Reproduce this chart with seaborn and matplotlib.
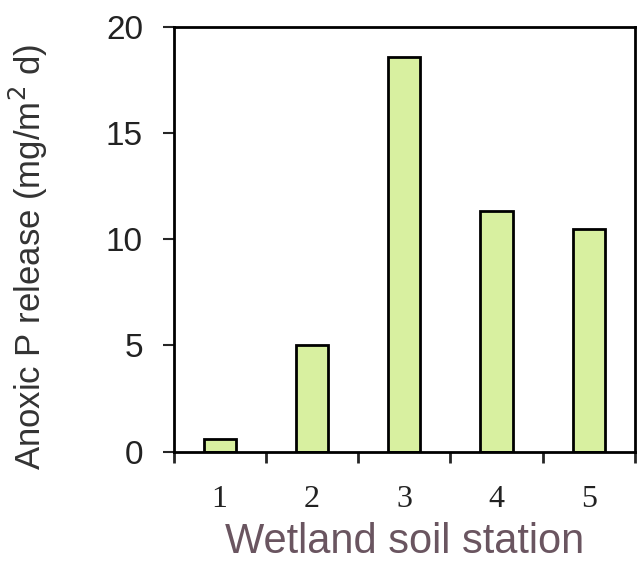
import matplotlib
matplotlib.use("Agg")
import matplotlib.pyplot as plt
import seaborn as sns
import pandas as pd
import numpy as np
from matplotlib.ticker import FixedLocator

stations = ["1", "2", "3", "4", "5"]
release = [0.6, 5.0, 18.6, 11.35, 10.5]
y_ticks = [0, 5, 10, 15, 20]

df = pd.DataFrame({"station": stations, "release": release})

sns.set_style("white")
plt.rcParams["font.family"] = ["Liberation Sans", "DejaVu Sans"]

fig = plt.figure(figsize=(6.38, 5.63), dpi=100)
ax = fig.add_axes([0.272, 0.198, 0.723, 0.754])

sns.barplot(data=df, x="station", y="release", color="#d8f0a0", width=0.35,
            edgecolor="black", linewidth=2, saturation=1, ax=ax)

ax.set_xlim(-0.5, 4.5)
ax.set_ylim(0, 20)
ax.set_yticks(y_ticks)
ax.set_yticklabels([str(v) for v in y_ticks], fontsize=24, color="#222222")
ax.tick_params(axis="y", direction="out", length=8, width=1.5, pad=14, left=True)

ax.set_xticks(range(len(stations)))
ax.set_xticklabels(stations, fontsize=23, family=["Liberation Serif"], color="#222222")
ax.tick_params(axis="x", which="major", length=0, pad=24)
ax.xaxis.set_minor_locator(FixedLocator(np.arange(-0.5, 5.0, 1.0)))
ax.tick_params(axis="x", which="minor", direction="out", length=8, width=2, bottom=True)

for s in ax.spines.values():
    s.set_visible(True)
    s.set_color("black")
    s.set_linewidth(2)

ax.set_xlabel("Wetland soil station", fontsize=30, color="#6a5560", labelpad=6)
ax.set_ylabel("Anoxic P release (mg/m$^2$ d)", fontsize=25, color="#333333")
ax.yaxis.set_label_coords(-0.268, 0.458)

fig.savefig("out.png", dpi=100)
